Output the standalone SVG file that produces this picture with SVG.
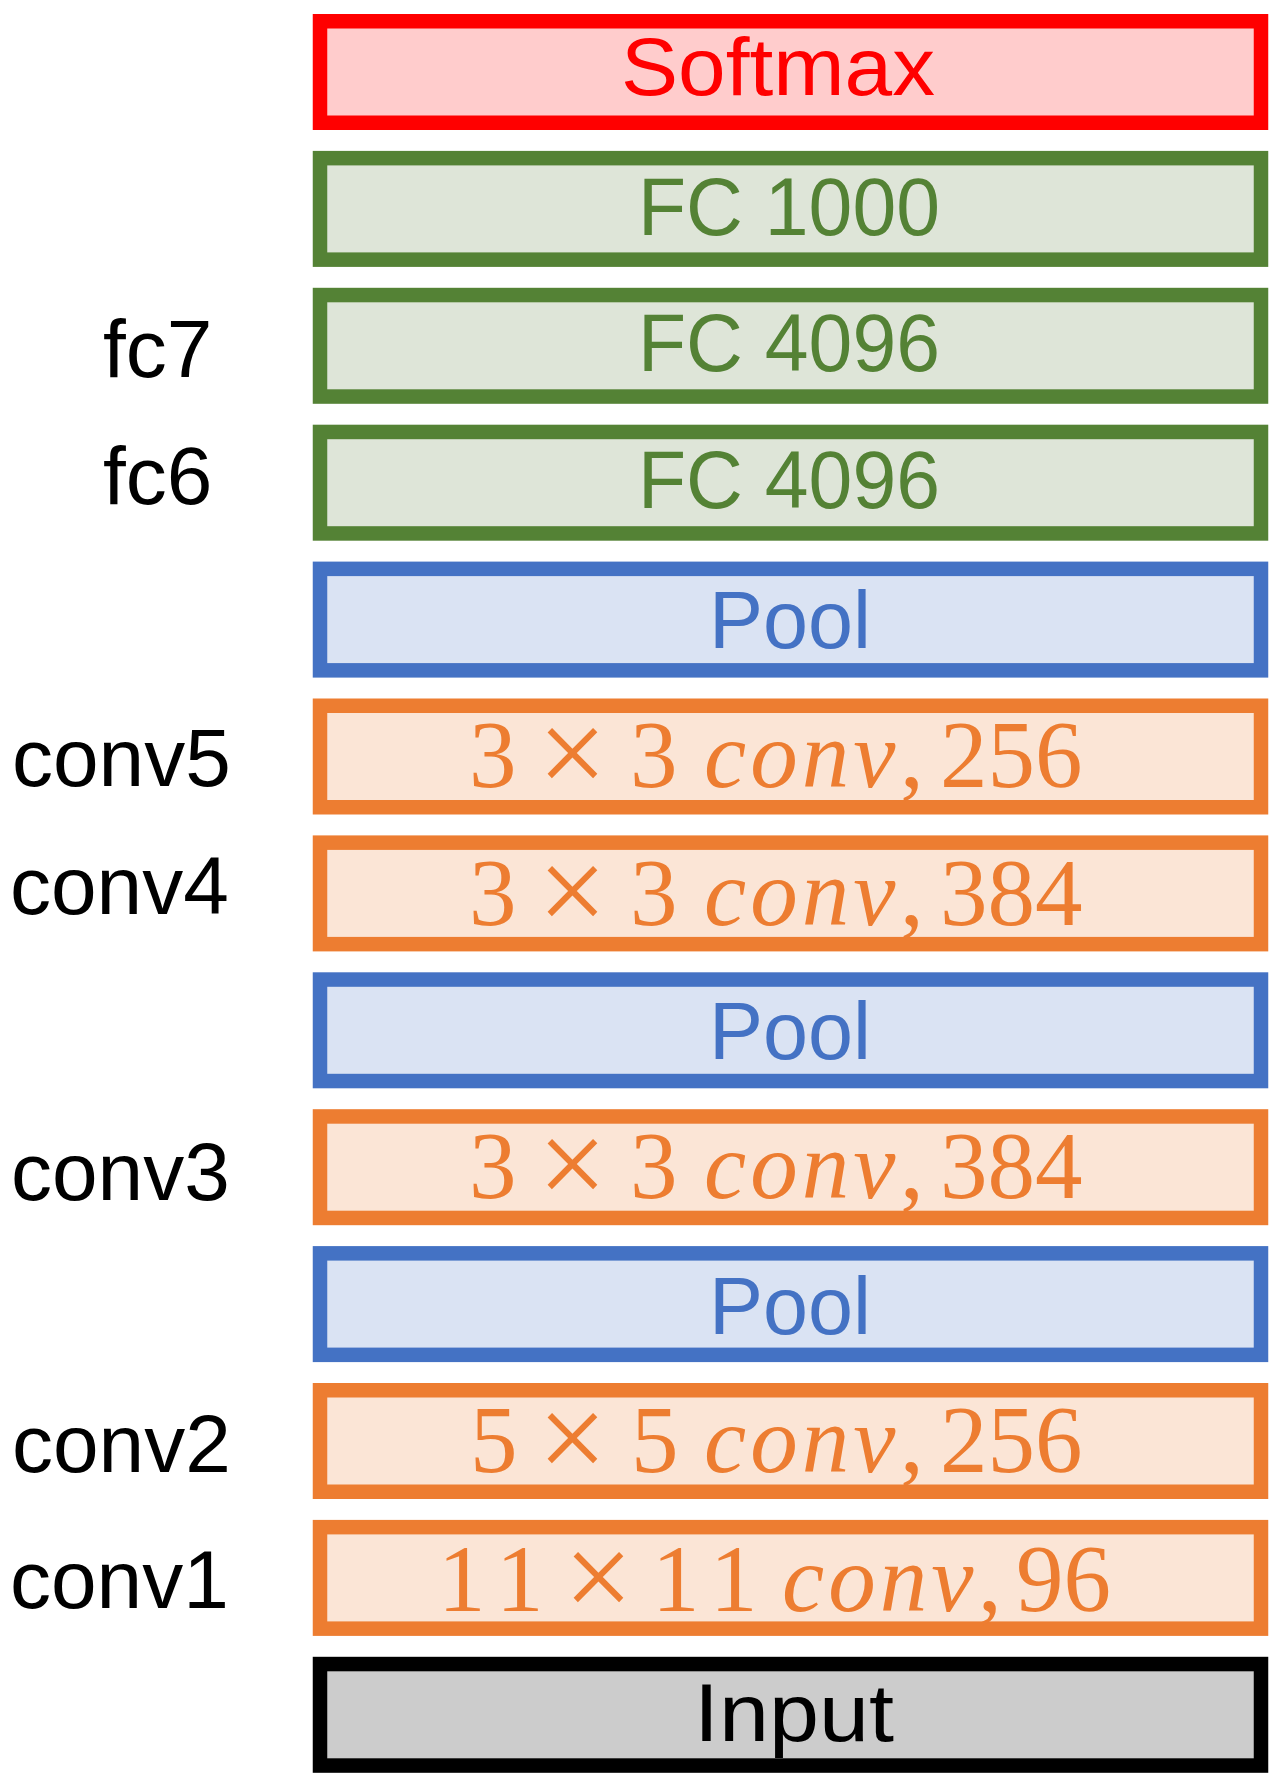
<svg xmlns="http://www.w3.org/2000/svg" width="1283" height="1787" viewBox="0 0 1283 1787">
<style>
rect.box{stroke-width:14.5}
.soft rect{fill:#FFCCCC;stroke:#FF0000}
.soft text{fill:#FF0000}
.fc rect{fill:#DEE5D8;stroke:#548235}
.fc text{fill:#548235}
.pool rect{fill:#DAE3F3;stroke:#4472C4}
.pool text{fill:#4472C4}
.conv rect{fill:#FBE5D6;stroke:#ED7D31}
.conv text{fill:#ED7D31;font-family:"Liberation Serif","Times New Roman",serif;font-size:95px}
.inp rect{fill:#CCCCCC;stroke:#000000}
.inp text{fill:#000000}
.lbl{font-family:"Liberation Sans",Arial,sans-serif;font-size:82px;text-anchor:middle}
.side{font-family:"Liberation Sans",Arial,sans-serif;font-size:82px;fill:#000000}
.it{font-style:italic;letter-spacing:4px}
.x{font-size:122px}
.w{letter-spacing:14px}
</style>
<rect width="1283" height="1787" fill="#FFFFFF"/>
<g id="connectors"/>
<g id="softmax" class="soft">
<rect class="box" x="320" y="21.25" width="941" height="101.5"/>
<text class="lbl" x="778" y="95" textLength="314" lengthAdjust="spacingAndGlyphs">Softmax</text>
</g>
<g id="fc1000" class="fc">
<rect class="box" x="320" y="158.15" width="941" height="101.5"/>
<text class="lbl" x="789" y="235" textLength="302" lengthAdjust="spacingAndGlyphs">FC 1000</text>
</g>
<g id="fc7" class="fc">
<rect class="box" x="320" y="295.05" width="941" height="101.5"/>
<text class="lbl" x="789" y="371" textLength="302" lengthAdjust="spacingAndGlyphs">FC 4096</text>
</g>
<g id="fc6" class="fc">
<rect class="box" x="320" y="431.95" width="941" height="101.5"/>
<text class="lbl" x="789" y="508" textLength="302" lengthAdjust="spacingAndGlyphs">FC 4096</text>
</g>
<g id="pool3" class="pool">
<rect class="box" x="320" y="568.85" width="941" height="101.5"/>
<text class="lbl" x="790" y="648" textLength="162" lengthAdjust="spacingAndGlyphs">Pool</text>
</g>
<g id="conv5" class="conv">
<rect class="box" x="320" y="705.75" width="941" height="101.5"/>
<text y="787"><tspan x="469">3</tspan><tspan x="538" class="x" dy="7">×</tspan><tspan x="630" dy="-7">3</tspan><tspan x="704" class="it">conv</tspan><tspan x="900">,</tspan><tspan x="940">256</tspan></text>
</g>
<g id="conv4" class="conv">
<rect class="box" x="320" y="842.65" width="941" height="101.5"/>
<text y="925"><tspan x="469">3</tspan><tspan x="538" class="x" dy="7">×</tspan><tspan x="630" dy="-7">3</tspan><tspan x="704" class="it">conv</tspan><tspan x="900">,</tspan><tspan x="940">384</tspan></text>
</g>
<g id="pool2" class="pool">
<rect class="box" x="320" y="979.55" width="941" height="101.5"/>
<text class="lbl" x="790" y="1058.5" textLength="162" lengthAdjust="spacingAndGlyphs">Pool</text>
</g>
<g id="conv3" class="conv">
<rect class="box" x="320" y="1116.45" width="941" height="101.5"/>
<text y="1198"><tspan x="469">3</tspan><tspan x="538" class="x" dy="7">×</tspan><tspan x="630" dy="-7">3</tspan><tspan x="704" class="it">conv</tspan><tspan x="900">,</tspan><tspan x="940">384</tspan></text>
</g>
<g id="pool1" class="pool">
<rect class="box" x="320" y="1253.35" width="941" height="101.5"/>
<text class="lbl" x="790" y="1334" textLength="162" lengthAdjust="spacingAndGlyphs">Pool</text>
</g>
<g id="conv2" class="conv">
<rect class="box" x="320" y="1390.25" width="941" height="101.5"/>
<text y="1472"><tspan x="470">5</tspan><tspan x="538" class="x" dy="7">×</tspan><tspan x="631" dy="-7">5</tspan><tspan x="704" class="it">conv</tspan><tspan x="900">,</tspan><tspan x="940">256</tspan></text>
</g>
<g id="conv1" class="conv">
<rect class="box" x="320" y="1527.15" width="941" height="101.5"/>
<text y="1611"><tspan x="438" class="w">11</tspan><tspan x="564" class="x" dy="7">×</tspan><tspan x="652" dy="-7" class="w">11</tspan><tspan x="782" class="it">conv</tspan><tspan x="978">,</tspan><tspan x="1016">96</tspan></text>
</g>
<g id="input" class="inp">
<rect class="box" x="320" y="1664.05" width="941" height="101.5"/>
<text class="lbl" x="794" y="1741" textLength="200" lengthAdjust="spacingAndGlyphs">Input</text>
</g>
<g id="labels">
<text class="side" x="103" y="377">fc7</text>
<text class="side" x="103" y="504">fc6</text>
<text class="side" x="12" y="786">conv5</text>
<text class="side" x="10" y="914">conv4</text>
<text class="side" x="11" y="1200">conv3</text>
<text class="side" x="12" y="1472">conv2</text>
<text class="side" x="10" y="1608">conv1</text>
</g>
</svg>
